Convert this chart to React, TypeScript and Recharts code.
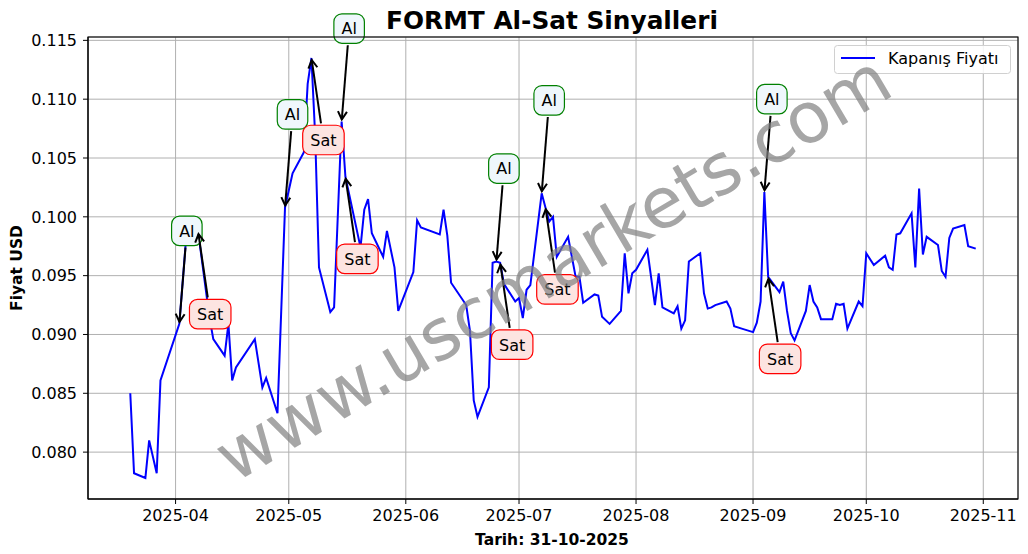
import React from 'react';
import { LineChart, Line, XAxis, YAxis, CartesianGrid, ReferenceDot } from 'recharts';

const dates: string[] = [
  '2025-03-20','2025-03-21','2025-03-24','2025-03-25','2025-03-27','2025-03-28',
  '2025-04-02','2025-04-04','2025-04-07','2025-04-10','2025-04-11','2025-04-14','2025-04-15','2025-04-16','2025-04-17',
  '2025-04-22','2025-04-24','2025-04-25','2025-04-28','2025-04-30',
  '2025-05-02','2025-05-05','2025-05-06','2025-05-07','2025-05-08','2025-05-09','2025-05-12','2025-05-13','2025-05-15','2025-05-16',
  '2025-05-20','2025-05-21','2025-05-22','2025-05-23','2025-05-26','2025-05-27','2025-05-29','2025-05-30',
  '2025-06-03','2025-06-04','2025-06-05','2025-06-10','2025-06-11','2025-06-12','2025-06-13','2025-06-17','2025-06-18','2025-06-19','2025-06-20',
  '2025-06-23','2025-06-24','2025-06-25','2025-06-26','2025-06-27','2025-06-30',
  '2025-07-01','2025-07-02','2025-07-03','2025-07-04','2025-07-07','2025-07-08','2025-07-09','2025-07-10','2025-07-11',
  '2025-07-14','2025-07-16','2025-07-17','2025-07-18','2025-07-21','2025-07-22','2025-07-23','2025-07-25','2025-07-28','2025-07-29','2025-07-30','2025-07-31',
  '2025-08-01','2025-08-04','2025-08-06','2025-08-07','2025-08-08','2025-08-11','2025-08-12','2025-08-13','2025-08-14','2025-08-15',
  '2025-08-18','2025-08-19','2025-08-20','2025-08-21','2025-08-22','2025-08-25','2025-08-26','2025-08-27','2025-08-29',
  '2025-09-01','2025-09-02','2025-09-03','2025-09-04','2025-09-05','2025-09-08','2025-09-09','2025-09-10','2025-09-11','2025-09-12',
  '2025-09-15','2025-09-16','2025-09-17','2025-09-18','2025-09-19','2025-09-22','2025-09-23','2025-09-24','2025-09-25','2025-09-26',
  '2025-09-29','2025-09-30','2025-10-01','2025-10-03','2025-10-06','2025-10-07','2025-10-08','2025-10-09','2025-10-10',
  '2025-10-13','2025-10-14','2025-10-15','2025-10-16','2025-10-17','2025-10-20','2025-10-21','2025-10-22','2025-10-23','2025-10-24',
  '2025-10-27','2025-10-28','2025-10-30',
];

const closes: number[] = [
  0.0850, 0.0782, 0.0778, 0.0810, 0.0782, 0.0861,
  0.0909, 0.0990, 0.0987, 0.0914, 0.0896, 0.0882, 0.0909, 0.0861, 0.0872,
  0.0896, 0.0855, 0.0863, 0.0833, 0.1008,
  0.1037, 0.1055, 0.1113, 0.1135, 0.1068, 0.0957, 0.0919, 0.0923, 0.1081, 0.1034,
  0.0974, 0.1006, 0.1015, 0.0986, 0.0966, 0.0988, 0.0957, 0.0920,
  0.0953, 0.0997, 0.0991, 0.0985, 0.1006, 0.0984, 0.0944, 0.0925, 0.0903, 0.0844, 0.0830,
  0.0855, 0.0961, 0.0962, 0.0961, 0.0943, 0.0928,
  0.0931, 0.0914, 0.0938, 0.0942, 0.1020, 0.1008, 0.0996, 0.1000, 0.0966,
  0.0983, 0.0949, 0.0949, 0.0927, 0.0934, 0.0933, 0.0915, 0.0909, 0.0920, 0.0969, 0.0935, 0.0952,
  0.0955, 0.0972, 0.0925, 0.0952, 0.0923, 0.0918, 0.0924, 0.0905, 0.0912, 0.0962,
  0.0969, 0.0935, 0.0922, 0.0923, 0.0925, 0.0928, 0.0922, 0.0907, 0.0905,
  0.0902, 0.0910, 0.0928, 0.1021, 0.0949, 0.0936, 0.0945, 0.0920, 0.0901, 0.0895,
  0.0920, 0.0942, 0.0928, 0.0923, 0.0913, 0.0913, 0.0926, 0.0925, 0.0926, 0.0905,
  0.0928, 0.0924, 0.0969, 0.0959, 0.0967, 0.0957, 0.0955, 0.0985, 0.0986,
  0.1003, 0.0957, 0.1024, 0.0968, 0.0983, 0.0976, 0.0954, 0.0949, 0.0982, 0.0990,
  0.0993, 0.0975, 0.0973,
];

const alDates: string[] = ['2025-04-02', '2025-04-30', '2025-05-15', '2025-06-25', '2025-07-07', '2025-09-04'];
const satDates: string[] = ['2025-04-07', '2025-05-07', '2025-05-16', '2025-06-26', '2025-07-08', '2025-09-05'];

const monthTicks: string[] = ['2025-04', '2025-05', '2025-06', '2025-07', '2025-08', '2025-09', '2025-10', '2025-11'];
const priceTicks: number[] = [0.080, 0.085, 0.090, 0.095, 0.100, 0.105, 0.110, 0.115];

const titleText = 'FORMT Al-Sat Sinyalleri';
const xLabelText = 'Tarih: 31-10-2025';
const yLabelText = 'Fiyat USD';
const legendText = 'Kapanış Fiyatı';
const watermarkText = 'www.uscmarkets.com';

const toTs = (s: string) => {
  const p = s.split('-').map(Number);
  return Date.UTC(p[0], p[1] - 1, p[2] || 1);
};

const data = dates.map((d, i) => ({ t: toTs(d), close: closes[i] }));
const closeAt = (d: string) => closes[dates.indexOf(d)];

const tMin = Math.min(...data.map((d) => d.t));
const tMax = Math.max(...data.map((d) => d.t));
const tPad = (tMax - tMin) * 0.05;
const xDomain: [number, number] = [tMin - tPad, tMax + tPad];
const vMin = Math.min(...closes);
const vMax = Math.max(...closes);
const vPad = (vMax - vMin) * 0.05;
const yDomain: [number, number] = [vMin - vPad, vMax + vPad];
const xTicks = monthTicks.map(toTs);

const FONT = "'DejaVu Sans', 'Liberation Sans', sans-serif";

const fmtMonth = (v: number) => {
  const d = new Date(v);
  return `${d.getUTCFullYear()}-${String(d.getUTCMonth() + 1).padStart(2, '0')}`;
};

function Annot(props: any) {
  const { cx, cy, kind } = props;
  if (cx == null || cy == null) return null;
  const isAl = kind === 'al';
  const label = isAl ? 'Al' : 'Sat';
  const bx = cx + (isAl ? 7.5 : 12);
  const by = cy + (isAl ? -93 : 82);
  const w = isAl ? 30.5 : 41.5;
  const h = 29.5;
  const vx = cx - bx;
  const vy = cy - by;
  const len = Math.hypot(vx, vy);
  const ux = vx / len;
  const uy = vy / len;
  const tx = Math.abs(ux) > 1e-6 ? w / 2 / Math.abs(ux) : Infinity;
  const ty = Math.abs(uy) > 1e-6 ? h / 2 / Math.abs(uy) : Infinity;
  const tExit = Math.min(tx, ty) + 2;
  const sx = bx + ux * tExit;
  const sy = by + uy * tExit;
  const ex = cx - ux * 2;
  const ey = cy - uy * 2;
  const hl = 8;
  const hw = 4.5;
  const px = -uy;
  const py = ux;
  const h1x = ex - ux * hl + px * hw;
  const h1y = ey - uy * hl + py * hw;
  const h2x = ex - ux * hl - px * hw;
  const h2y = ey - uy * hl - py * hw;
  return (
    <g>
      <line x1={sx} y1={sy} x2={ex} y2={ey} stroke="#000" strokeWidth={2} />
      <polyline points={`${h1x},${h1y} ${ex},${ey} ${h2x},${h2y}`} fill="none" stroke="#000" strokeWidth={2} />
      <rect
        x={bx - w / 2}
        y={by - h / 2}
        width={w}
        height={h}
        rx={8}
        ry={8}
        fill={isAl ? '#EFF7FC' : '#FDE4E1'}
        stroke={isAl ? '#008000' : '#FF0000'}
        strokeWidth={1.2}
      />
      <text x={bx} y={by + 5.8} textAnchor="middle" fontFamily={FONT} fontSize={16} fill="#000">
        {label}
      </text>
    </g>
  );
}

export default function App() {
  return (
    <div style={{ position: 'absolute', left: 0, top: 0, width: 1028, height: 554, background: '#fff' }}>
      <LineChart width={1028} height={554} data={data} margin={{ top: 37, right: 10, bottom: 0, left: 0 }}>
        <CartesianGrid stroke="#b0b0b0" strokeWidth={1} />
        <XAxis
          dataKey="t"
          type="number"
          domain={xDomain}
          ticks={xTicks}
          tickFormatter={fmtMonth}
          allowDataOverflow
          height={55}
          tickSize={5}
          tickMargin={6}
          stroke="#000"
          tick={{ fill: '#000', fontSize: 16, fontFamily: FONT }}
        />
        <YAxis
          type="number"
          domain={yDomain}
          ticks={priceTicks}
          tickFormatter={(v: number) => v.toFixed(3)}
          allowDataOverflow
          width={88}
          tickSize={5}
          tickMargin={6}
          stroke="#000"
          tick={{ fill: '#000', fontSize: 16, fontFamily: FONT }}
        />
        <Line
          type="linear"
          dataKey="close"
          stroke="#0000FF"
          strokeWidth={2}
          dot={false}
          activeDot={false}
          isAnimationActive={false}
        />
        {alDates.map((d) => (
          <ReferenceDot
            key={'al' + d}
            x={toTs(d)}
            y={closeAt(d)}
            r={0}
            ifOverflow="visible"
            shape={(p: any) => <Annot cx={p.cx} cy={p.cy} kind="al" />}
          />
        ))}
        {satDates.map((d) => (
          <ReferenceDot
            key={'sat' + d}
            x={toTs(d)}
            y={closeAt(d)}
            r={0}
            ifOverflow="visible"
            shape={(p: any) => <Annot cx={p.cx} cy={p.cy} kind="sat" />}
          />
        ))}
      </LineChart>
      <svg
        width={1028}
        height={554}
        style={{ position: 'absolute', left: 0, top: 0, pointerEvents: 'none' }}
      >
        <rect x={88} y={37} width={930} height={462} fill="none" stroke="#000" strokeWidth={1.1} />
        <text x={552} y={28.5} textAnchor="middle" fontFamily={FONT} fontWeight="bold" fontSize={24.8} fill="#000">
          {titleText}
        </text>
        <text x={552} y={545} textAnchor="middle" fontFamily={FONT} fontWeight="bold" fontSize={15.5} fill="#000">
          {xLabelText}
        </text>
        <text
          x={0}
          y={0}
          transform="translate(21.5,268) rotate(-90)"
          textAnchor="middle"
          fontFamily={FONT}
          fontWeight="bold"
          fontSize={15.5}
          fill="#000"
        >
          {yLabelText}
        </text>
        <g>
          <rect x={834.5} y={45.5} width={176} height={28} rx={3} fill="#fff" fillOpacity={0.85} stroke="#d0d0d0" strokeWidth={1} />
          <line x1={841} y1={58} x2={875} y2={58} stroke="#0000FF" strokeWidth={2} />
          <text x={888} y={64} fontFamily={FONT} fontSize={16} fill="#000">
            {legendText}
          </text>
        </g>
        <text
          x={0}
          y={0}
          transform="translate(553,268) rotate(-30.5)"
          textAnchor="middle"
          dominantBaseline="central"
          fontFamily={FONT}
          fontSize={70.5}
          fill="#808080"
          fillOpacity={0.7}
        >
          {watermarkText}
        </text>
      </svg>
    </div>
  );
}
